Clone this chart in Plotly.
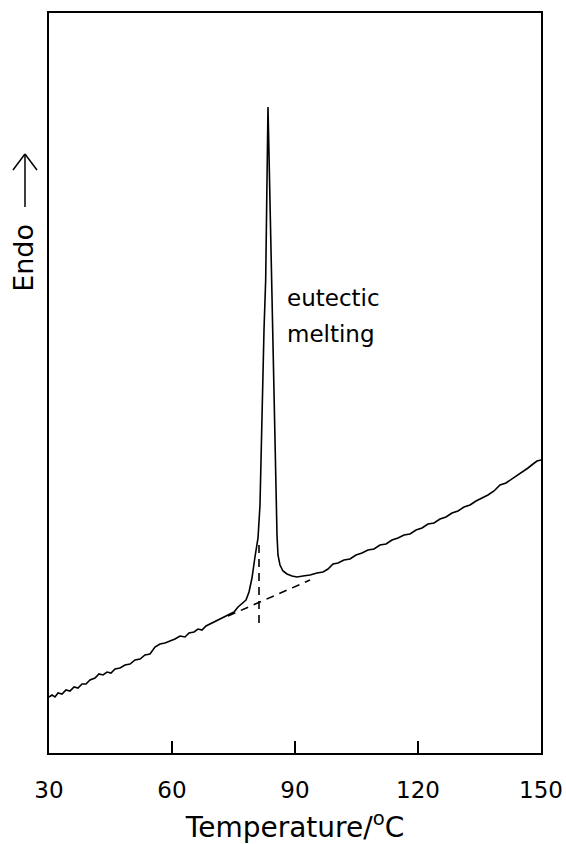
import plotly.graph_objects as go

# DSC trace: temperature (°C) vs heat-flow signal (arbitrary units, endo up)
temperature = [
    30.00, 30.73, 31.46, 32.20, 33.17, 34.15, 35.12, 36.10, 37.07, 38.05,
    39.02, 40.00, 41.22, 42.20, 43.17, 44.15, 45.12, 46.10, 47.32, 48.54,
    49.76, 50.98, 52.20, 53.41, 54.63, 55.85, 57.07, 58.29, 59.51, 60.73,
    61.95, 63.17, 64.15, 65.37, 66.34, 67.32, 68.29, 69.27, 70.49, 71.71,
    72.93, 74.15, 75.12, 76.10, 77.07, 78.05, 78.78, 79.51, 80.24, 80.98,
    81.46, 81.95, 82.44, 82.85, 83.10, 83.29, 83.41, 83.56, 83.78, 84.07,
    84.32, 84.63, 84.88, 85.12, 85.37, 85.61, 85.85, 86.34, 87.07, 88.05,
    89.27, 90.49, 91.95, 93.66, 95.37, 96.83, 98.05, 99.27, 100.49, 101.95,
    103.41, 104.88, 106.34, 107.80, 109.27, 110.73, 112.20, 113.66, 115.12, 116.59,
    118.05, 119.51, 120.98, 122.44, 123.90, 125.37, 126.83, 128.29, 129.76, 131.22,
    132.68, 134.15, 135.61, 137.07, 138.54, 140.00, 141.46, 142.93, 144.39, 145.61,
    146.83, 148.05, 149.02, 150.00,
]
signal = [
    56, 58, 56, 60, 59, 63, 62, 66, 65, 69,
    69, 73, 75, 79, 78, 81, 80, 84, 85, 88,
    89, 93, 94, 98, 99, 106, 109, 110, 112, 114,
    117, 116, 120, 121, 124, 123, 127, 129, 131, 134,
    136, 139, 141, 146, 150, 153, 161, 175, 196, 215,
    248, 343, 423, 473, 538, 603, 646, 618, 573, 538,
    473, 413, 353, 303, 253, 218, 198, 188, 182, 179,
    177, 176, 177, 178, 180, 181, 184, 189, 190, 193,
    194, 198, 200, 203, 204, 208, 209, 213, 215, 218,
    219, 223, 225, 229, 230, 234, 236, 240, 242, 246,
    248, 252, 255, 258, 262, 268, 270, 274, 278, 282,
    285, 289, 292, 293,
]

# construction lines (extrapolated baseline and onset marker)
baseline_t = [73.66, 93.66]
baseline_s = [137, 173]
marker_t = [81.22, 81.22]
marker_s = [130, 211]

x_ticks = [30, 60, 90, 120, 150]
x_range = [30, 150]
y_range = [0, 740]

FONT = "DejaVu Sans, Noto Sans, sans-serif"

fig = go.Figure()
fig.add_trace(go.Scatter(x=temperature, y=signal, mode="lines",
                         line=dict(color="black", width=1.6), showlegend=False))
fig.add_trace(go.Scatter(x=baseline_t, y=baseline_s, mode="lines",
                         line=dict(color="black", width=1.6, dash="8px,6px"), showlegend=False))
fig.add_trace(go.Scatter(x=marker_t, y=marker_s, mode="lines",
                         line=dict(color="black", width=1.6, dash="8px,6px"), showlegend=False))

fig.update_layout(
    width=566, height=844,
    margin=dict(l=49, r=25, t=13, b=91),
    paper_bgcolor="white", plot_bgcolor="white",
    font=dict(family=FONT, color="black"),
    xaxis=dict(range=x_range, tickvals=x_ticks, ticktext=[str(v) for v in x_ticks],
               ticks="inside", ticklen=12, tickwidth=1.5, tickcolor="black",
               showline=True, linecolor="black", linewidth=2, mirror=True,
               showgrid=False, zeroline=False, automargin=False,
               tickfont=dict(size=23, family=FONT), ticklabelstandoff=15,
               title=dict(text="Temperature/<sup>o</sup>C", font=dict(size=28, family=FONT),
                          standoff=20)),
    yaxis=dict(range=y_range, showticklabels=False, ticks="",
               showline=True, linecolor="black", linewidth=2, mirror=True,
               showgrid=False, zeroline=False, automargin=False),
)

# Endo label with arrow
fig.add_annotation(text="Endo", xref="paper", yref="paper", x=-0.051, y=0.669,
                   textangle=-90, showarrow=False, font=dict(size=27, family=FONT),
                   xanchor="center", yanchor="middle")
ax = -0.0488
fig.add_shape(type="line", xref="paper", yref="paper", x0=ax, x1=ax, y0=0.7378, y1=0.8095,
              line=dict(color="black", width=1.5))
fig.add_shape(type="line", xref="paper", yref="paper", x0=-0.0732, x1=ax, y0=0.7878, y1=0.8095,
              line=dict(color="black", width=1.5))
fig.add_shape(type="line", xref="paper", yref="paper", x0=-0.0244, x1=ax, y0=0.7878, y1=0.8095,
              line=dict(color="black", width=1.5))

fig.add_annotation(text="eutectic", x=87.56, y=455, xref="x", yref="y", showarrow=False,
                   xanchor="left", yanchor="middle", font=dict(size=23, family=FONT))
fig.add_annotation(text="melting", x=87.56, y=419, xref="x", yref="y", showarrow=False,
                   xanchor="left", yanchor="middle", font=dict(size=23, family=FONT))

fig.write_html("out.html", config={"displayModeBar": False},
               post_script="document.body.style.margin='0';document.body.style.overflow='hidden';")
